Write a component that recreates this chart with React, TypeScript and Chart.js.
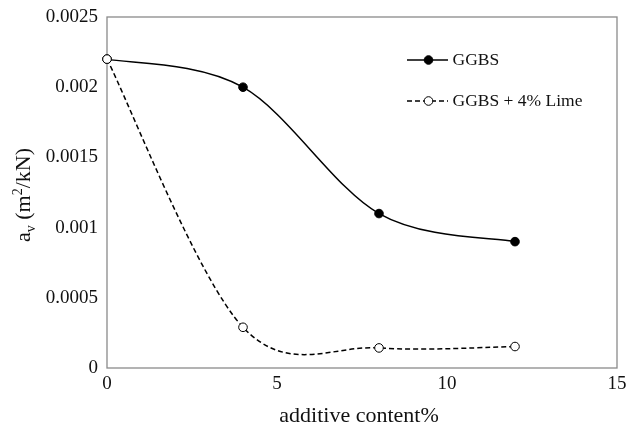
import React, { useEffect, useRef } from "react";
import { Chart, registerables } from "chart.js";

Chart.register(...registerables);

const xValues = [0, 4, 8, 12];
const ggbs = [0.0022, 0.002, 0.0011, 0.0009];
const ggbsLime = [0.0022, 0.00029, 0.000143, 0.000153];
const seriesNames = ["GGBS", "GGBS + 4% Lime"];
const yTickLabels = ["0", "0.0005", "0.001", "0.0015", "0.002", "0.0025"];
const xTickLabels = ["0", "5", "10", "15"];
const xTitle = "additive content%";

const SERIF = "'Liberation Serif', 'Times New Roman', serif";

const framePlugin = {
  id: "frame",
  beforeDatasetsDraw(chart: any) {
    const { ctx, chartArea: a } = chart;
    ctx.save();
    ctx.strokeStyle = "#8a8a8a";
    ctx.lineWidth = 1.3;
    ctx.strokeRect(a.left, a.top, a.right - a.left, a.bottom - a.top);
    ctx.restore();
  },
};

// Excel-style smoothing: control points at P_i ± (P_{i+1} − P_{i−1}) / 6,
// computed from the pixel positions the library's scales produced.
const smoothPlugin = {
  id: "excelSmooth",
  beforeDatasetsDraw(chart: any) {
    chart.getSortedVisibleDatasetMetas().forEach((meta: any) => {
      const line = meta.dataset;
      const pts = meta.data;
      if (!line || !pts || !pts.length) return;
      line.updateControlPoints(chart.chartArea, "x");
      for (let i = 0; i < pts.length; i++) {
        const p = pts[i];
        const p0 = pts[i - 1] || p;
        const p2 = pts[i + 1] || p;
        const dx = (p2.x - p0.x) / 6;
        const dy = (p2.y - p0.y) / 6;
        p.cp1x = p.x - dx;
        p.cp1y = p.y - dy;
        p.cp2x = p.x + dx;
        p.cp2y = p.y + dy;
      }
      line._path = undefined;
    });
  },
};

const titlesPlugin = {
  id: "titles",
  afterDraw(chart: any) {
    const { ctx } = chart;
    ctx.save();
    ctx.fillStyle = "#111";
    ctx.font = `22px ${SERIF}`;
    ctx.textAlign = "center";
    ctx.textBaseline = "middle";
    ctx.fillText(xTitle, 359, 416);
    const big = `22px ${SERIF}`;
    const small = `14px ${SERIF}`;
    const parts = [
      { t: "a", f: big, dy: 0 },
      { t: "v", f: small, dy: 5 },
      { t: " (m", f: big, dy: 0 },
      { t: "2", f: small, dy: -8 },
      { t: "/kN)", f: big, dy: 0 },
    ];
    let total = 0;
    for (const p of parts) {
      ctx.font = p.f;
      total += ctx.measureText(p.t).width;
    }
    ctx.translate(30, 195);
    ctx.rotate(-Math.PI / 2);
    ctx.textAlign = "left";
    ctx.textBaseline = "alphabetic";
    let x = -total / 2;
    for (const p of parts) {
      ctx.font = p.f;
      ctx.fillText(p.t, x, p.dy);
      x += ctx.measureText(p.t).width;
    }
    ctx.restore();
  },
};

const legendPlugin = {
  id: "customLegend",
  afterDraw(chart: any) {
    const { ctx } = chart;
    const rows = [
      { y: 60, dash: [] as number[], fill: "#000" },
      { y: 101, dash: [5, 3], fill: "#fff" },
    ];
    ctx.save();
    rows.forEach((r, i) => {
      ctx.strokeStyle = "#000";
      ctx.lineWidth = 1.4;
      ctx.setLineDash(r.dash);
      ctx.beginPath();
      ctx.moveTo(407, r.y);
      ctx.lineTo(448, r.y);
      ctx.stroke();
      ctx.setLineDash([]);
      ctx.beginPath();
      ctx.arc(428.5, r.y, 4.3, 0, Math.PI * 2);
      ctx.fillStyle = r.fill;
      ctx.fill();
      ctx.lineWidth = 1;
      ctx.stroke();
      ctx.fillStyle = "#111";
      ctx.font = `17.5px ${SERIF}`;
      ctx.textAlign = "left";
      ctx.textBaseline = "middle";
      ctx.fillText(seriesNames[i], 452.5, r.y);
    });
    ctx.restore();
  },
};

export default function App() {
  const ref = useRef<HTMLCanvasElement>(null);
  useEffect(() => {
    document.body.style.margin = "0";
    const canvas = ref.current!;
    const chart = new Chart(canvas, {
      type: "line",
      data: {
        datasets: [
          {
            label: seriesNames[0],
            data: xValues.map((x, i) => ({ x, y: ggbs[i] })),
            borderColor: "#000",
            borderWidth: 1.5,
            pointRadius: 4.3,
            pointBackgroundColor: "#000",
            pointBorderColor: "#000",
            pointBorderWidth: 1,
            tension: 0.4,
            clip: false as any,
            order: 2,
          },
          {
            label: seriesNames[1],
            data: xValues.map((x, i) => ({ x, y: ggbsLime[i] })),
            borderColor: "#000",
            borderWidth: 1.5,
            borderDash: [5, 3],
            pointRadius: 4.3,
            pointBackgroundColor: "#fff",
            pointBorderColor: "#000",
            pointBorderWidth: 1,
            tension: 0.4,
            clip: false as any,
            order: 1,
          },
        ],
      },
      options: {
        animation: false,
        responsive: false,
        maintainAspectRatio: false,
        layout: { padding: { top: 17, right: 9, left: 0, bottom: 0 } },
        plugins: {
          legend: { display: false },
          tooltip: { enabled: false },
        },
        scales: {
          x: {
            type: "linear",
            min: 0,
            max: 15,
            ticks: {
              stepSize: 5,
              padding: 5,
              color: "#111",
              font: { family: SERIF, size: 19 },
              callback: (_v: any, i: number) => xTickLabels[i],
            },
            grid: { display: false, drawTicks: false },
            border: { display: false },
            afterFit: (s: any) => {
              s.height = 60;
              s.paddingRight = 0;
              s.paddingLeft = 0;
            },
          },
          y: {
            type: "linear",
            min: 0,
            max: 0.0025,
            ticks: {
              stepSize: 0.0005,
              padding: 9,
              color: "#111",
              font: { family: SERIF, size: 19 },
              callback: (_v: any, i: number) => yTickLabels[i],
            },
            grid: { display: false, drawTicks: false },
            border: { display: false },
            afterFit: (s: any) => {
              s.width = 107;
              s.paddingTop = 0;
              s.paddingBottom = 0;
            },
          },
        },
      },
      plugins: [framePlugin, smoothPlugin, titlesPlugin, legendPlugin],
    });
    return () => chart.destroy();
  }, []);
  return (
    <div style={{ width: 626, height: 428 }}>
      <canvas ref={ref} width={626} height={428} style={{ display: "block" }} />
    </div>
  );
}
